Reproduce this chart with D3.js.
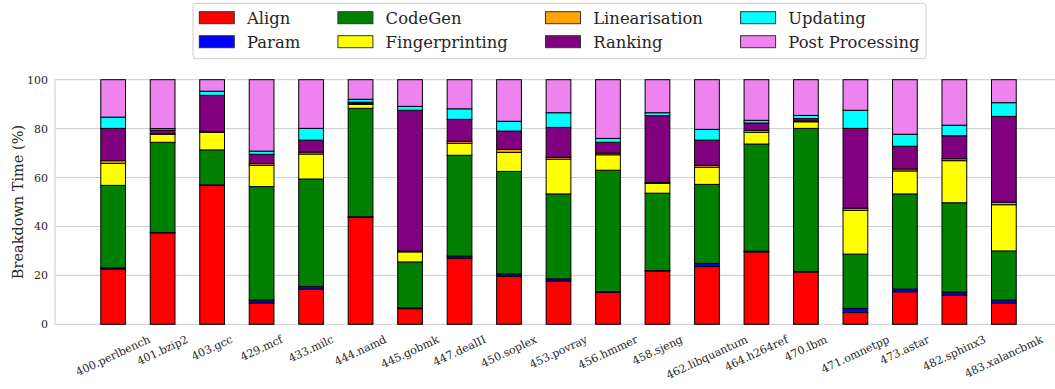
<!DOCTYPE html>
<html>
<head>
<meta charset="utf-8">
<script src="https://cdn.jsdelivr.net/npm/d3@7"></script>
<style>
  body { margin: 0; background: #fff; }
  svg { display: block; font-family: "DejaVu Serif", serif; }
</style>
</head>
<body>
<svg id="chart" width="1055" height="389"></svg>
<script>
// SPEC CPU2006 benchmarks and per-phase share of total run time (%)
const benchmarks = ["400.perlbench", "401.bzip2", "403.gcc", "429.mcf", "433.milc", "444.namd",
  "445.gobmk", "447.dealII", "450.soplex", "453.povray", "456.hmmer", "458.sjeng",
  "462.libquantum", "464.h264ref", "470.lbm", "471.omnetpp", "473.astar", "482.sphinx3", "483.xalancbmk"];

const align          = [22.6, 37.4, 56.8, 8.7, 14.4, 43.8, 6.4, 27.0, 19.6, 17.7, 13.1, 21.8, 23.6, 29.6, 21.4, 4.8, 13.3, 11.9, 8.6];
const param          = [0.5, 0.1, 0.2, 1.2, 1.1, 0.2, 0.3, 0.9, 1.0, 0.9, 0.3, 0.2, 1.3, 0.3, 0.2, 1.7, 1.1, 1.3, 1.3];
const codeGen        = [33.7, 36.9, 14.3, 46.4, 43.9, 44.3, 18.8, 41.2, 41.9, 34.7, 49.6, 31.6, 32.3, 43.8, 58.5, 22.2, 38.9, 36.5, 20.1];
const fingerprinting = [9.0, 3.3, 7.2, 8.7, 10.2, 1.6, 4.1, 4.9, 7.8, 14.2, 6.3, 4.0, 7.0, 4.8, 2.7, 17.9, 9.4, 17.2, 18.9];
const linearisation  = [1.1, 0.3, 0.3, 0.7, 0.8, 0.3, 0.3, 0.8, 1.2, 0.8, 0.7, 0.4, 0.8, 0.8, 0.3, 0.9, 0.8, 0.8, 1.0];
const ranking        = [13.2, 1.3, 14.8, 3.8, 4.9, 0.6, 57.6, 9.0, 7.5, 12.2, 4.4, 27.3, 10.3, 3.0, 1.0, 32.6, 9.3, 9.4, 35.1];
const updating       = [4.6, 0.7, 1.7, 1.3, 4.8, 1.2, 1.6, 4.3, 4.0, 6.0, 1.6, 1.2, 4.4, 1.1, 1.3, 7.4, 4.9, 4.3, 5.6];
const postProcessing = [15.3, 20.0, 4.7, 29.2, 19.9, 8.0, 10.9, 11.9, 17.0, 13.5, 24.0, 13.5, 20.3, 16.6, 14.6, 12.5, 22.3, 18.6, 9.4];

const phaseNames  = ["Align", "Param", "CodeGen", "Fingerprinting", "Linearisation", "Ranking", "Updating", "Post Processing"];
const phaseColors = ["#ff0000", "#0000ff", "#008000", "#ffff00", "#ffa500", "#800080", "#00ffff", "#ee82ee"];
const yTicks = [0, 20, 40, 60, 80, 100];

const phaseValues = [align, param, codeGen, fingerprinting, linearisation, ranking, updating, postProcessing];
const rows = benchmarks.map((name, i) => {
  const r = { name, index: i };
  phaseNames.forEach((p, k) => { r[p] = phaseValues[k][i]; });
  return r;
});

const svg = d3.select("#chart");
const textColor = "#262626";
const gridColor = "#cccccc";

// Bars sit at integer positions with width 0.5; x limits padded like the plotting default
const x = d3.scaleLinear().domain([-1.175, 19.175]).range([55, 1062]);
const y = d3.scaleLinear().domain([0, 100]).range([324.3, 79.7]);
const barW = x(0.5) - x(0);

// Horizontal grid
svg.append("g")
  .selectAll("line")
  .data(yTicks)
  .join("line")
  .attr("x1", x.range()[0]).attr("x2", 1055)
  .attr("y1", d => y(d)).attr("y2", d => y(d))
  .attr("stroke", gridColor).attr("stroke-width", 1);

// Left spine
svg.append("line")
  .attr("x1", x.range()[0]).attr("x2", x.range()[0])
  .attr("y1", y(0)).attr("y2", y(100))
  .attr("stroke", gridColor).attr("stroke-width", 1);

// Y axis labels
const tickFont = 11;
const yAxis = d3.axisLeft(y).tickValues(yTicks).tickSize(0).tickPadding(7);
const yG = svg.append("g").attr("transform", `translate(${x.range()[0]},0)`).call(yAxis);
yG.select(".domain").remove();
yG.selectAll("text")
  .attr("font-family", "DejaVu Serif")
  .attr("font-size", tickFont)
  .attr("fill", textColor);

svg.append("text")
  .attr("transform", `translate(23,${(y(0) + y(100)) / 2}) rotate(-90)`)
  .attr("text-anchor", "middle")
  .attr("font-size", 14.5)
  .attr("fill", textColor)
  .text("Breakdown Time (%)");

// Stacked bars
const stacked = d3.stack().keys(phaseNames)(rows);
svg.append("g")
  .selectAll("g")
  .data(stacked)
  .join("g")
  .attr("fill", (d, k) => phaseColors[k])
  .selectAll("rect")
  .data(d => d)
  .join("rect")
  .attr("x", d => x(d.data.index) - barW / 2)
  .attr("width", barW)
  .attr("y", d => y(d[1]))
  .attr("height", d => y(d[0]) - y(d[1]))
  .attr("stroke", "#000")
  .attr("stroke-width", 1);

// Rotated benchmark labels, centred under each bar and hung from a common top line
const angle = 25;
const rad = angle * Math.PI / 180;
const labelTop = 333;
svg.append("g")
  .selectAll("text")
  .data(rows)
  .join("text")
  .attr("font-size", tickFont)
  .attr("fill", textColor)
  .attr("text-anchor", "middle")
  .attr("dominant-baseline", "central")
  .text(d => d.name)
  .each(function (d) {
    const len = this.getComputedTextLength();
    const h = tickFont * 1.17;
    const boxH = len * Math.sin(rad) + h * Math.cos(rad);
    const cx = x(d.index);
    const cy = labelTop + boxH / 2;
    d3.select(this)
      .attr("x", cx).attr("y", cy)
      .attr("transform", `rotate(${-angle},${cx},${cy})`);
  });

// Legend: 4 columns, filled column by column
const legendFont = 16.4;
const legend = svg.append("g");
const frame = legend.append("rect")
  .attr("x", 193).attr("y", 3.3).attr("rx", 3).attr("ry", 3)
  .attr("height", 55.4)
  .attr("fill", "#fff").attr("stroke", gridColor).attr("stroke-width", 1);

const patchW = 35, patchH = 12, textGap = 12.7, colSpacing = 37.7;
const rowPatchY = [11.7, 35.7];
let colX = 199.3;
let endX = colX;
for (let c = 0; c < 4; c++) {
  let maxW = 0;
  for (let r = 0; r < 2; r++) {
    const k = c * 2 + r;
    legend.append("rect")
      .attr("x", colX).attr("y", rowPatchY[r])
      .attr("width", patchW).attr("height", patchH)
      .attr("fill", phaseColors[k])
      .attr("stroke", "#333").attr("stroke-width", 1);
    const t = legend.append("text")
      .attr("x", colX + patchW + textGap)
      .attr("y", rowPatchY[r] + patchH / 2 + 6.0)
      .attr("font-size", legendFont)
      .attr("fill", textColor)
      .text(phaseNames[k]);
    maxW = Math.max(maxW, t.node().getComputedTextLength());
  }
  endX = colX + patchW + textGap + maxW;
  colX = endX + colSpacing;
}
frame.attr("width", endX + 6.5 - 193);
</script>
</body>
</html>
